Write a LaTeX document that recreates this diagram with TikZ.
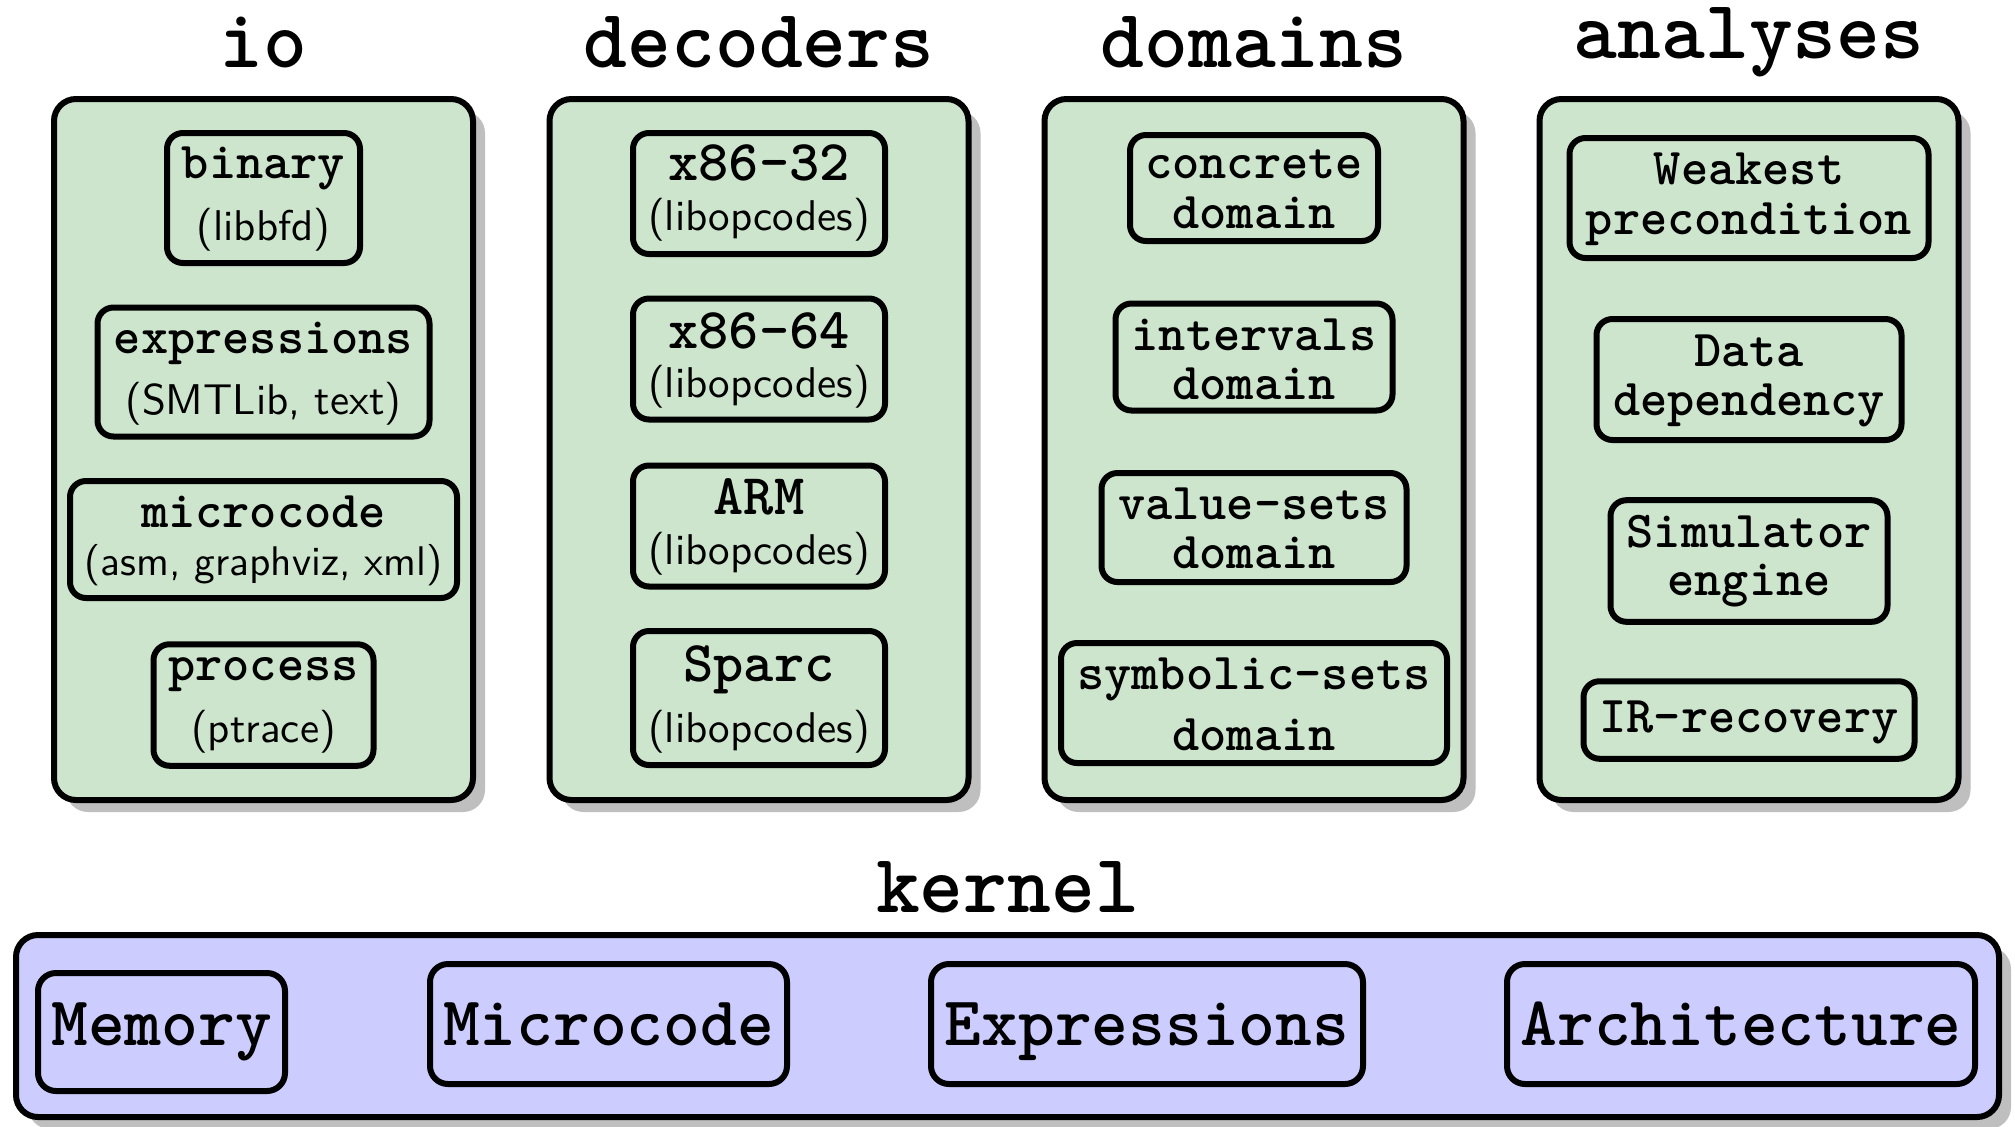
\documentclass[tikz,border=0pt]{standalone}
\usetikzlibrary{shadows}
\definecolor{panelgreen}{RGB}{204,229,204}
\definecolor{kernelblue}{RGB}{204,204,255}
\definecolor{shadowgrey}{RGB}{191,191,191}
\newcommand\ttboxfont{\fontsize{12.95pt}{14pt}\selectfont\ttfamily\bfseries}
\newcommand\ttbigfont{\fontsize{14.4pt}{16pt}\selectfont\ttfamily\bfseries}
\newcommand\sfboxfont{\fontsize{10.75pt}{12pt}\selectfont\sffamily}
\newcommand\sfsmallfont{\fontsize{10.35pt}{12pt}\selectfont\sffamily}
\newcommand\titlefont{\fontsize{20.85pt}{24pt}\selectfont\ttfamily\bfseries}
\newcommand\kernfont{\fontsize{17.5pt}{20pt}\selectfont\ttfamily\bfseries}
\begin{document}
\begin{tikzpicture}[x=0.25pt,y=-0.25pt,
  sz/.style 2 args={minimum width=#1*0.25pt-1.5pt, minimum height=#2*0.25pt-1.5pt},
  panel/.style={draw=black, line width=1.5pt, fill=panelgreen, rounded corners=5.5pt, inner sep=0pt,
    drop shadow={shadow xshift=3pt, shadow yshift=-3pt, fill=shadowgrey, opacity=1}},
  kpanel/.style={panel, fill=kernelblue},
  ibox/.style={draw=black, line width=1.5pt, rounded corners=4pt, inner sep=0pt},
  kbox/.style={ibox, rounded corners=4.5pt},
  ttl/.style={font=\titlefont, inner sep=0pt, anchor=center},
  tl/.style={font=\ttboxfont, inner sep=0pt, anchor=base},
  tlb/.style={font=\ttbigfont, inner sep=0pt, anchor=base},
  sl/.style={font=\sfboxfont, inner sep=0pt, anchor=base},
  kl/.style={font=\kernfont, inner sep=0pt, anchor=base}]
\useasboundingbox (0,0) rectangle (2015,1126);

% titles
\node[ttl] (t-io)  at (263.5,42) {io};
\node[ttl] (t-dec) at (759,42) {decoders};
\node[ttl] (t-dom) at (1254,42) {domains};
\node[ttl] (t-ana) at (1749,42) {analyses};
\node[ttl] (t-ker) at (1007.5,887) {kernel};

% panels
\node[panel, sz={425}{707}] (p-io)  at (263.5,449.5) {};
\node[panel, sz={425}{707}] (p-dec) at (759,449.5) {};
\node[panel, sz={425}{707}] (p-dom) at (1254,449.5) {};
\node[panel, sz={425}{707}] (p-ana) at (1749,449.5) {};
\node[kpanel, sz={1989}{188}] (p-ker) at (1007.5,1026) {};

% io
\node[ibox, sz={199}{136}] (binary) at (263.5,198) {};
\node[tl] (binary-a) at (263.5,178.5) {binary};
\node[sl] (binary-b) at (263.5,240) {(libbfd)};
\node[ibox, sz={338}{135}] (expr) at (263.5,372) {};
\node[tl] (expr-a) at (263.5,353) {expressions};
\node[sl] (expr-b) at (263.5,414) {(SMTLib, text)};
\node[ibox, sz={393}{123}] (micro) at (263.5,539.5) {};
\node[tl] (micro-a) at (263.5,527) {microcode};
\node[sl, font=\sfsmallfont] (micro-b) at (263.5,575.6) {(asm, graphviz, xml)};
\node[ibox, sz={226}{127.5}] (proc) at (263.5,705) {};
\node[tl] (proc-a) at (263.5,680) {process};
\node[sl] (proc-b) at (263.5,742.6) {(ptrace)};

% decoders
\node[ibox, sz={258}{127}] (x32) at (759,193.5) {};
\node[tlb] (x32-a) at (759,180.5) {x86-32};
\node[sl] (x32-b) at (759,230) {(libopcodes)};
\node[ibox, sz={258}{127}] (x64) at (759,359) {};
\node[tlb] (x64-a) at (759,348.5) {x86-64};
\node[sl] (x64-b) at (759,397) {(libopcodes)};
\node[ibox, sz={258}{127}] (arm) at (759,526) {};
\node[tlb] (arm-a) at (759,514) {ARM};
\node[sl] (arm-b) at (759,564) {(libopcodes)};
\node[ibox, sz={258}{140}] (sparc) at (759,698) {};
\node[tlb] (sparc-a) at (759,681) {Sparc};
\node[sl] (sparc-b) at (759,742.6) {(libopcodes)};

% domains
\node[ibox, sz={254}{112}] (conc) at (1254,188) {};
\node[tl] (conc-a) at (1254,178.5) {concrete};
\node[tl] (conc-b) at (1254,228) {domain};
\node[ibox, sz={283}{113}] (intv) at (1254,357) {};
\node[tl] (intv-a) at (1254,350) {intervals};
\node[tl] (intv-b) at (1254,399) {domain};
\node[ibox, sz={311}{115}] (vset) at (1254,527.5) {};
\node[tl] (vset-a) at (1254,519) {value-sets};
\node[tl] (vset-b) at (1254,568) {domain};
\node[ibox, sz={392}{126}] (sset) at (1254,703) {};
\node[tl] (sset-a) at (1254,689) {symbolic-sets};
\node[tl] (sset-b) at (1254,750) {domain};

% analyses
\node[ibox, sz={365}{126}] (wp) at (1749,198) {};
\node[tl] (wp-a) at (1749,184) {Weakest};
\node[tl] (wp-b) at (1749,234) {precondition};
\node[ibox, sz={311}{127}] (dd) at (1749,379.5) {};
\node[tl] (dd-a) at (1749,366.5) {Data};
\node[tl] (dd-b) at (1749,415.7) {dependency};
\node[ibox, sz={283}{127.6}] (sim) at (1749,561) {};
\node[tl] (sim-a) at (1749,547) {Simulator};
\node[tl] (sim-b) at (1749,595.5) {engine};
\node[ibox, sz={337}{83.5}] (irr) at (1749,720) {};
\node[tl] (irr-a) at (1749,732.5) {IR-recovery};

% kernel
\node[kbox, sz={253}{124}] (mem) at (161.5,1032) {};
\node[kl] (mem-a) at (161.5,1045) {Memory};
\node[kbox, sz={363}{126}] (kmc) at (608.5,1024) {};
\node[kl] (kmc-a) at (608.5,1045) {Microcode};
\node[kbox, sz={438}{126}] (kex) at (1147,1024) {};
\node[kl] (kex-a) at (1147,1045) {Expressions};
\node[kbox, sz={474}{126}] (arch) at (1741,1024) {};
\node[kl] (arch-a) at (1741,1045) {Architecture};
\end{tikzpicture}
\end{document}
